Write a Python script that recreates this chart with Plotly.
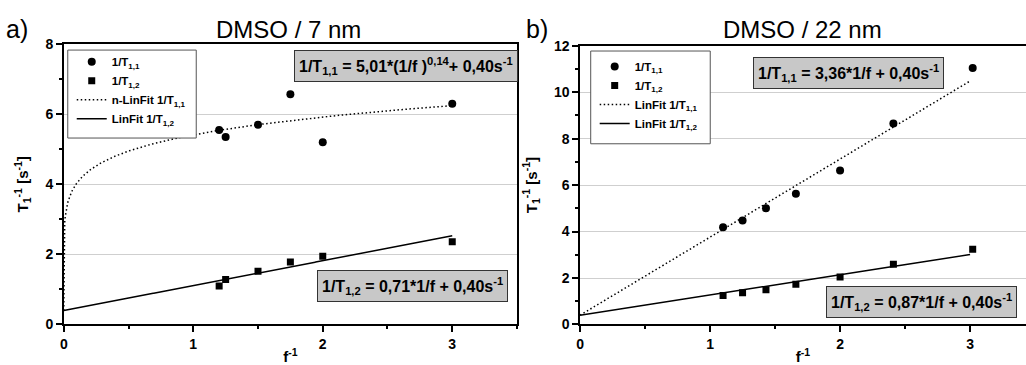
import numpy as np
import plotly.graph_objects as go

# ---- data ----
# Panel a) DMSO / 7 nm
a_x = [1.2, 1.25, 1.5, 1.75, 2.0, 3.0]
a_t11 = [5.55, 5.35, 5.7, 6.57, 5.2, 6.3]
a_t12 = [1.10, 1.28, 1.52, 1.78, 1.95, 2.36]
a_fit11 = [5.01, 0.14, 0.40]   # 1/T11 = a*(1/f)^b + c
a_fit12 = [0.71, 0.40]         # 1/T12 = m*(1/f) + c
a_fit_range = [0.0, 3.0]
a_yticks = [0, 2, 4, 6, 8]

# Panel b) DMSO / 22 nm
b_x = [1.1, 1.25, 1.43, 1.66, 2.0, 2.41, 3.02]
b_t11 = [4.18, 4.48, 5.0, 5.63, 6.63, 8.65, 11.04]
b_t12 = [1.25, 1.37, 1.49, 1.73, 2.04, 2.59, 3.24]
b_fit11 = [3.36, 0.40]
b_fit12 = [0.87, 0.40]
b_fit_range = [0.0, 3.0]
b_yticks = [0, 2, 4, 6, 8, 10, 12]

x_ticks = [0, 1, 2, 3]

FONT = "Liberation Sans, Arial, sans-serif"

xa = np.linspace(a_fit_range[0], a_fit_range[1], 800)
ya11 = a_fit11[0] * xa ** a_fit11[1] + a_fit11[2]
ya12 = a_fit12[0] * xa + a_fit12[1]
xb = np.linspace(b_fit_range[0], b_fit_range[1], 200)
yb11 = b_fit11[0] * xb + b_fit11[1]
yb12 = b_fit12[0] * xb + b_fit12[1]

DOT = "1.5px,2.5px"

fig = go.Figure()
# panel a
fig.add_trace(go.Scatter(x=a_x, y=a_t11, mode="markers", name="<b>1/T<sub>1,1</sub></b>",
                         marker=dict(symbol="circle", size=8, color="black"),
                         xaxis="x", yaxis="y", legend="legend"))
fig.add_trace(go.Scatter(x=a_x, y=a_t12, mode="markers", name="<b>1/T<sub>1,2</sub></b>",
                         marker=dict(symbol="square", size=7, color="black"),
                         xaxis="x", yaxis="y", legend="legend"))
fig.add_trace(go.Scatter(x=xa, y=ya11, mode="lines", name="<b>n-LinFit 1/T<sub>1,1</sub></b>",
                         line=dict(color="black", width=1.5, dash=DOT),
                         xaxis="x", yaxis="y", legend="legend"))
fig.add_trace(go.Scatter(x=xa, y=ya12, mode="lines", name="<b>LinFit 1/T<sub>1,2</sub></b>",
                         line=dict(color="black", width=1.5),
                         xaxis="x", yaxis="y", legend="legend"))
# panel b
fig.add_trace(go.Scatter(x=b_x, y=b_t11, mode="markers", name="<b>1/T<sub>1,1</sub></b>",
                         marker=dict(symbol="circle", size=8, color="black"),
                         xaxis="x2", yaxis="y2", legend="legend2"))
fig.add_trace(go.Scatter(x=b_x, y=b_t12, mode="markers", name="<b>1/T<sub>1,2</sub></b>",
                         marker=dict(symbol="square", size=7, color="black"),
                         xaxis="x2", yaxis="y2", legend="legend2"))
fig.add_trace(go.Scatter(x=xb, y=yb11, mode="lines", name="<b>LinFit 1/T<sub>1,1</sub></b>",
                         line=dict(color="black", width=1.5, dash=DOT),
                         xaxis="x2", yaxis="y2", legend="legend2"))
fig.add_trace(go.Scatter(x=xb, y=yb12, mode="lines", name="<b>LinFit 1/T<sub>1,2</sub></b>",
                         line=dict(color="black", width=1.5),
                         xaxis="x2", yaxis="y2", legend="legend2"))

tickfont = dict(family=FONT, size=14, color="black")
titlefont = dict(family=FONT, size=15, color="black")

def xax(domain, rng, anchor):
    return dict(domain=domain, range=rng, anchor=anchor,
                tickvals=x_ticks, ticktext=[f"<b>{v}</b>" for v in x_ticks],
                showline=True, linecolor="black", linewidth=1.5, mirror=True,
                ticks="outside", ticklen=6, tickwidth=1.5, tickcolor="black",
                minor=dict(dtick=0.5, tick0=0, ticks="outside", ticklen=3, tickwidth=1.5, tickcolor="black"),
                showgrid=False, zeroline=False, tickfont=tickfont,
                title=dict(text="<b>f<sup>-1</sup></b>", font=titlefont, standoff=2))

def yax(domain, rng, anchor, ticks, mirror):
    return dict(domain=domain, range=rng, anchor=anchor,
                tickvals=ticks, ticktext=[f"<b>{v}</b>" for v in ticks],
                showline=True, linecolor="black", linewidth=1.5, mirror=mirror,
                ticks="outside", ticklen=6, tickwidth=1.5, tickcolor="black",
                minor=dict(dtick=1, tick0=0, ticks="outside", ticklen=3, tickwidth=1.5,
                           tickcolor="black", showgrid=False),
                showgrid=True, gridcolor="#cfcfcf", gridwidth=1, zeroline=False,
                tickfont=tickfont,
                title=dict(text="<b>T<sub>1</sub><sup>-1</sup> [s<sup>-1</sup>]</b>", font=titlefont, standoff=13))

W, H = 1026, 365
legfont = dict(family=FONT, size=11.5, color="black")
fig.update_layout(
    width=W, height=H, margin=dict(l=0, r=0, t=0, b=0),
    paper_bgcolor="white", plot_bgcolor="white",
    font=dict(family=FONT, color="black"),
    xaxis=xax([60 / W, 515 / W], [0, 3.5], "y"),
    yaxis=yax([(H - 331) / H, (H - 37.7) / H], [0, 8], "x", a_yticks, True),
    xaxis2=xax([578.3 / W, 1.0], [0, 3.43], "y2"),
    yaxis2=yax([(H - 331) / H, (H - 39.4) / H], [0, 12], "x2", b_yticks, False),
    legend=dict(x=68 / W, y=(H - 41) / H, xanchor="left", yanchor="top",
                bgcolor="rgba(0,0,0,0)", borderwidth=0, font=legfont),
    legend2=dict(x=593 / W, y=(H - 46) / H, xanchor="left", yanchor="top",
                 bgcolor="rgba(0,0,0,0)", borderwidth=0, font=legfont),
    showlegend=True,
    shapes=[
        dict(type="rect", xref="paper", yref="paper", layer="above",
             x0=64 / W, x1=193 / W, y0=(H - 136) / H, y1=(H - 44) / H,
             fillcolor="white", line=dict(color="#555555", width=1)),
        dict(type="rect", xref="paper", yref="paper", layer="above",
             x0=589 / W, x1=709 / W, y0=(H - 142) / H, y1=(H - 45) / H,
             fillcolor="white", line=dict(color="#555555", width=1)),
    ],
)

box = dict(xref="paper", yref="paper", xanchor="center", yanchor="middle",
           bgcolor="#c8c8c8", bordercolor="#333333", borderwidth=1, borderpad=4,
           font=dict(family=FONT, size=16, color="black"), showarrow=False)
plain = dict(xref="paper", yref="paper", yanchor="middle", showarrow=False)
anns = [
    dict(x=404 / W, y=(H - 60.5) / H,
         text="<b>1/T<sub>1,1</sub> = 5,01*(1/f )<sup>0,14</sup>+ 0,40s<sup>-1</sup></b>", **box),
    dict(x=410 / W, y=(H - 291) / H,
         text="<b>1/T<sub>1,2</sub> = 0,71*1/f + 0,40s<sup>-1</sup></b>", **box),
    dict(x=848 / W, y=(H - 68) / H,
         text="<b>1/T<sub>1,1</sub> = 3,36*1/f + 0,40s<sup>-1</sup></b>", **box),
    dict(x=921 / W, y=(H - 307) / H,
         text="<b>1/T<sub>1,2</sub> = 0,87*1/f + 0,40s<sup>-1</sup></b>", **box),
    dict(x=0 / W, y=(H - 22) / H, xanchor="left", text="a)",
         font=dict(family=FONT, size=25, color="black"), **plain),
    dict(x=522 / W, y=(H - 22) / H, xanchor="left", text="b)",
         font=dict(family=FONT, size=25, color="black"), **plain),
    dict(x=286 / W, y=(H - 23) / H, xanchor="center", text="DMSO / 7 nm",
         font=dict(family=FONT, size=24, color="black"), **plain),
    dict(x=802 / W, y=(H - 23) / H, xanchor="center", text="DMSO / 22 nm",
         font=dict(family=FONT, size=24, color="black"), **plain),
]
fig.update_layout(annotations=anns)

fig.write_html("out.html")
